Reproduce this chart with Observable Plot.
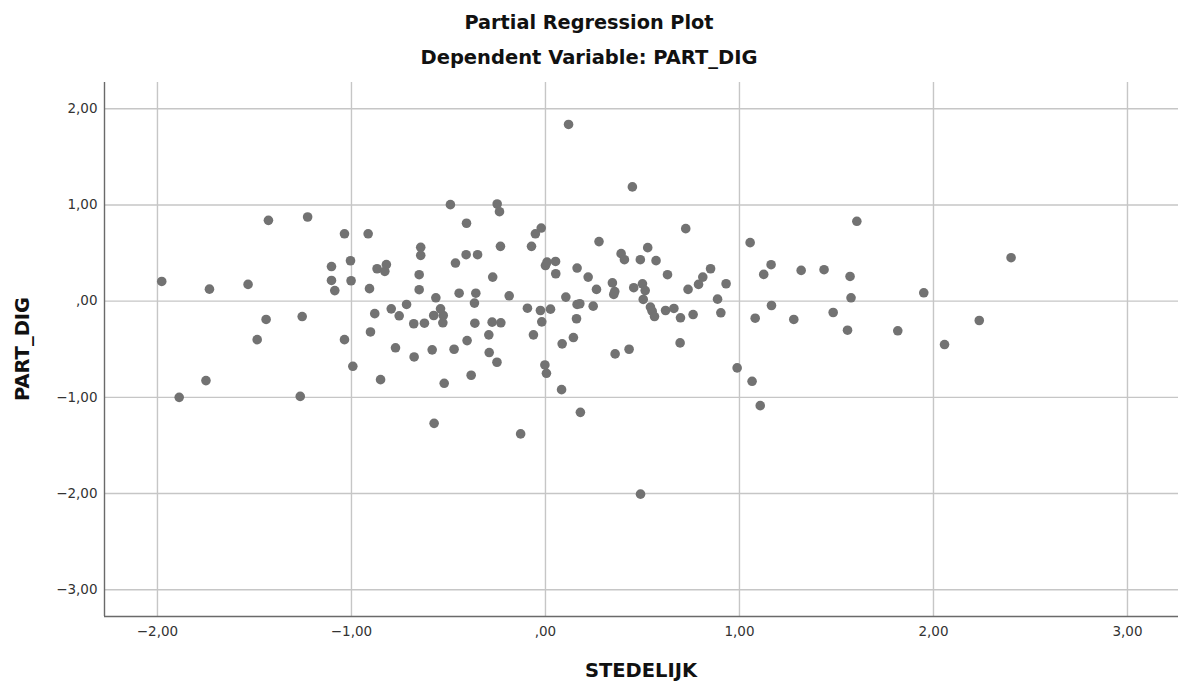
<!DOCTYPE html>
<html>
<head>
<meta charset="utf-8">
<script src="https://cdn.jsdelivr.net/npm/d3@7"></script>
<script src="https://cdn.jsdelivr.net/npm/@observablehq/plot@0.6"></script>
<style>
  html, body { margin: 0; padding: 0; background: #fff; }
  #wrap { position: relative; width: 1178px; height: 689px; font-family: "DejaVu Sans", sans-serif; }
  .t { position: absolute; font-weight: bold; color: #111; white-space: nowrap; }
  #title1 { left: 0; width: 1178px; text-align: center; top: 11px; font-size: 19.3px; }
  #title2 { left: 0; width: 1178px; text-align: center; top: 46px; font-size: 19.5px; }
  #xlabel { left: 104px; width: 1074px; text-align: center; top: 659px; font-size: 19.5px; }
  #ylabel { left: 22px; top: 349px; font-size: 19.5px; transform: translate(-50%, -50%) rotate(-90deg); }
  svg { position: absolute; left: 0; top: 0; }
</style>
</head>
<body>
<div id="wrap">
  <div class="t" id="title1">Partial Regression Plot</div>
  <div class="t" id="title2">Dependent Variable: PART_DIG</div>
  <div class="t" id="xlabel">STEDELIJK</div>
  <div class="t" id="ylabel">PART_DIG</div>
</div>
<script>
// STEDELIJK (x) values
const stedelijk = [
  -1.978, -1.888, -1.75, -1.732, -1.533, -1.486, -1.44, -1.428, -1.264, -1.254,
  -1.226, -1.103, -1.103, -1.086, -1.036, -1.036, -1.005, -1.002, -0.993, -0.914,
  -0.907, -0.902, -0.88, -0.868, -0.85, -0.828, -0.82, -0.795, -0.773, -0.754,
  -0.716, -0.679, -0.677, -0.651, -0.651, -0.643, -0.643, -0.624, -0.584, -0.576,
  -0.574, -0.565, -0.541, -0.529, -0.527, -0.522, -0.49, -0.471, -0.464, -0.445,
  -0.409, -0.407, -0.404, -0.383, -0.366, -0.364, -0.359, -0.35, -0.292, -0.29,
  -0.275, -0.272, -0.25, -0.249, -0.237, -0.232, -0.23, -0.187, -0.128, -0.093,
  -0.072, -0.062, -0.052, -0.026, -0.022, -0.019, -0.003, 0.0, 0.005, 0.008,
  0.026, 0.052, 0.053, 0.083, 0.086, 0.105, 0.119, 0.144, 0.16, 0.163,
  0.163, 0.177, 0.18, 0.22, 0.246, 0.263, 0.276, 0.345, 0.352, 0.357,
  0.359, 0.39, 0.407, 0.431, 0.448, 0.455, 0.489, 0.49, 0.5, 0.504,
  0.514, 0.527, 0.541, 0.55, 0.562, 0.57, 0.619, 0.629, 0.662, 0.694,
  0.696, 0.723, 0.735, 0.761, 0.789, 0.811, 0.851, 0.887, 0.904, 0.931,
  0.988, 1.055, 1.065, 1.081, 1.107, 1.125, 1.163, 1.165, 1.28, 1.318,
  1.436, 1.483, 1.557, 1.57, 1.575, 1.605, 1.816, 1.95, 2.057, 2.236,
  2.40
];
// PART_DIG (y) values, same order
const partDig = [
  0.205, -1.0, -0.826, 0.125, 0.174, -0.40, -0.19, 0.84, -0.99, -0.16,
  0.875, 0.36, 0.215, 0.11, 0.70, -0.40, 0.42, 0.212, -0.677, 0.70,
  0.13, -0.32, -0.13, 0.337, -0.816, 0.31, 0.38, -0.08, -0.485, -0.152,
  -0.034, -0.235, -0.58, 0.275, 0.119, 0.56, 0.476, -0.229, -0.506, -0.149,
  -1.27, 0.035, -0.08, -0.225, -0.149, -0.854, 1.003, -0.5, 0.396, 0.083,
  0.483, 0.81, -0.41, -0.77, -0.02, -0.229, 0.083, 0.483, -0.35, -0.534,
  -0.218, 0.25, -0.635, 1.01, 0.93, 0.57, -0.225, 0.056, -1.38, -0.073,
  0.57, -0.35, 0.70, -0.097, 0.76, -0.215, -0.663, 0.37, -0.75, 0.406,
  -0.083, 0.413, 0.285, -0.92, -0.444, 0.042, 1.837, -0.378, -0.183, 0.344,
  -0.034, -0.027, -1.156, 0.25, -0.052, 0.122, 0.619, 0.19, 0.07, 0.10,
  -0.548, 0.494, 0.431, -0.5, 1.188, 0.14, 0.431, -2.006, 0.18, 0.018,
  0.11, 0.556, -0.062, -0.104, -0.16, 0.421, -0.097, 0.275, -0.076, -0.434,
  -0.173, 0.754, 0.122, -0.139, 0.174, 0.25, 0.337, 0.021, -0.121, 0.181,
  -0.694, 0.608, -0.833, -0.177, -1.086, 0.278, 0.379, -0.045, -0.19, 0.32,
  0.327, -0.118, -0.302, 0.257, 0.035, 0.83, -0.308, 0.087, -0.451, -0.201,
  0.452
];
const xTicks = [-2, -1, 0, 1, 2, 3];
const yTicks = [2, 1, 0, -1, -2, -3];
const xDomain = [-2.273, 3.263];
const yDomain = [-3.278, 2.273];

const points = stedelijk.map((x, i) => ({x, y: partDig[i]}));
const fmt = d => d3.format(".2f")(d).replace(".", ",").replace(/^(−?)0,/, "$1,");

const chart = Plot.plot({
  width: 1178,
  height: 689,
  marginTop: 82,
  marginBottom: 73,
  marginLeft: 104,
  marginRight: 0,
  style: {fontFamily: "DejaVu Sans, sans-serif", background: "transparent"},
  x: {domain: xDomain},
  y: {domain: yDomain},
  marks: [
    Plot.gridX(xTicks, {stroke: "#c6c6c6", strokeOpacity: 1, strokeWidth: 1.4}),
    Plot.gridY(yTicks, {stroke: "#c6c6c6", strokeOpacity: 1, strokeWidth: 1.4}),
    Plot.ruleX([xDomain[0]], {stroke: "#6a6a6a", strokeWidth: 1.4}),
    Plot.ruleY([yDomain[0]], {stroke: "#6a6a6a", strokeWidth: 1.4}),
    Plot.axisX(xTicks, {tickSize: 0, tickPadding: 10, tickFormat: fmt, label: null, fontSize: 13.5, fill: "#333"}),
    Plot.axisY(yTicks, {tickSize: 0, tickPadding: 7, tickFormat: fmt, label: null, fontSize: 13.5, fill: "#333"}),
    Plot.dot(points, {x: "x", y: "y", r: 4.8, fill: "#727272", stroke: null})
  ]
});
document.getElementById("wrap").prepend(chart);
</script>
</body>
</html>
